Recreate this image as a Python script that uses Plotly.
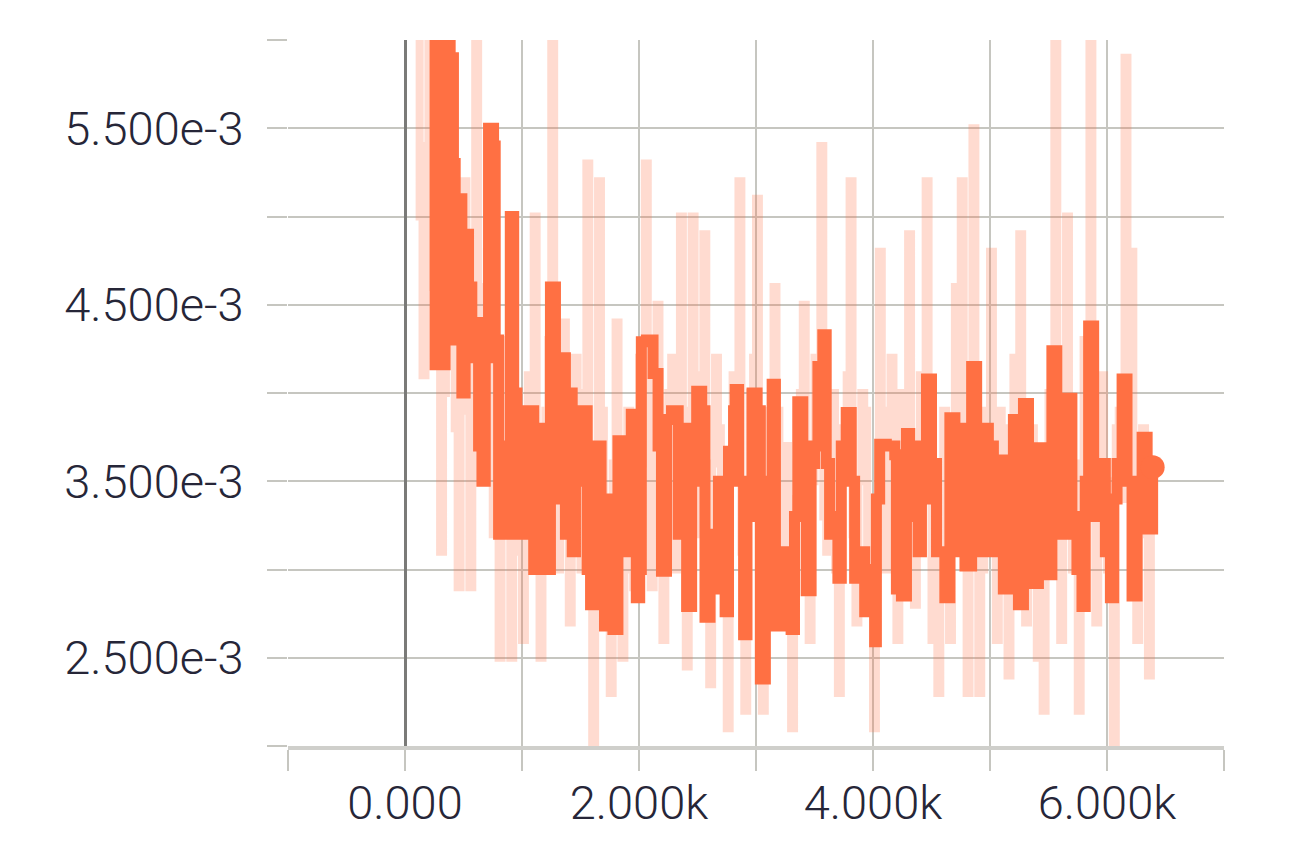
import numpy as np
import plotly.graph_objects as go

# smoothed series (step, value in units of 1e-3)
smooth_step = [200, 229, 257, 314, 343, 386, 414, 429, 457, 486, 514, 543, 571, 600, 629, 657, 686, 714, 757, 771,
               800, 829, 857, 900, 929, 957, 986, 1014, 1043, 1071, 1100, 1129, 1157, 1200, 1243, 1286, 1314, 1343,
               1371, 1400, 1429, 1457, 1500, 1529, 1557, 1586, 1633, 1676, 1705, 1748, 1777, 1820, 1862, 1905, 1934,
               1977, 2006, 2020, 2063, 2120, 2163, 2192, 2235, 2278, 2335, 2378, 2407, 2450, 2493, 2536, 2564, 2607,
               2650, 2679, 2708, 2736, 2765, 2808, 2822, 2851, 2894, 2923, 2966, 3009, 3037, 3080, 3138, 3166, 3209,
               3252, 3300, 3329, 3357, 3400, 3429, 3471, 3500, 3529, 3571, 3600, 3629, 3671, 3700, 3729, 3771, 3814,
               3843, 3886, 3929, 3971, 4014, 4029, 4057, 4114, 4186, 4200, 4243, 4286, 4314, 4343, 4386, 4414, 4457,
               4500, 4543, 4571, 4614, 4657, 4700, 4743, 4786, 4843, 4886, 4914, 4957, 4986, 5029, 5071, 5114, 5157,
               5200, 5243, 5286, 5329, 5371, 5414, 5457, 5486, 5529, 5571, 5614, 5657, 5700, 5743, 5786, 5814, 5843,
               5886, 5929, 5957, 5986, 6029, 6057, 6086, 6129, 6171, 6214, 6257, 6300, 6343, 6390]
smooth_val = [6.3, 6.2, 4.16, 4.16, 6.3, 5.9, 5.3, 4.3, 5.1, 4.0, 4.9, 4.6, 4.2, 4.4, 3.7, 3.5, 4.2, 5.5, 5.4, 4.3,
              3.2, 3.7, 3.2, 5.0, 4.0, 3.2, 3.9, 3.4, 3.2, 3.9, 3.0, 3.8, 3.3, 3.0, 4.6, 4.2, 3.4, 4.2,
              3.2, 4.0, 3.1, 3.9, 3.5, 3.9, 3.0, 2.8, 3.7, 3.3, 2.68, 3.4, 2.66, 3.73, 3.18, 3.1, 3.88,
              2.84, 3.0, 4.29, 4.3, 4.11, 3.7, 2.99, 3.85, 3.9, 3.2, 3.8, 2.79, 3.5, 4.01, 3.9, 2.73, 3.2,
              2.89, 3.5, 3.2, 2.76, 3.67, 3.9, 4.02, 3.5, 2.63, 3.3, 4.0, 3.9, 2.38, 3.5, 4.05, 2.68, 3.1,
              2.8, 2.66, 3.3, 3.95, 3.7, 2.88, 3.6, 3.7, 4.15, 4.33, 3.6, 3.2, 3.3, 2.95, 3.7, 3.89, 3.5,
              2.95, 3.1, 2.76, 3.0, 2.59, 3.4, 3.71, 3.7, 3.65, 2.89, 2.85, 3.77, 3.3, 3.7, 3.1, 3.4, 4.08,
              3.6, 3.1, 3.1, 2.84, 3.86, 3.1, 3.8, 3.02, 4.15, 3.4, 3.1, 3.8, 3.7, 3.1, 3.62, 2.89, 3.5,
              3.85, 2.8, 3.94, 3.2, 2.92, 3.69, 3.4, 2.97, 4.24, 3.3, 3.2, 3.97, 3.3, 3.0, 2.79, 3.5, 4.38,
              3.3, 3.4, 3.6, 3.1, 2.84, 3.4, 3.6, 4.08, 3.5, 2.85, 3.3, 3.75, 3.23, 3.58]

# raw series (step, value in units of 1e-3): extremes at even steps, band values in between
raw_step = [100, 150, 200, 250, 300, 350, 400, 450, 500, 550, 600, 650, 700, 750, 800, 850, 900, 950, 1000, 1050,
            1100, 1150, 1200, 1250, 1300, 1350, 1400, 1450, 1500, 1550, 1600, 1650, 1700, 1750, 1800, 1850, 1900,
            1950, 2000, 2050, 2100, 2150, 2200, 2250, 2300, 2350, 2400, 2450, 2500, 2550, 2600, 2650, 2700, 2750,
            2800, 2850, 2900, 2950, 3000, 3050, 3100, 3150, 3200, 3250, 3300, 3350, 3400, 3450, 3500, 3550, 3600,
            3650, 3700, 3750, 3800, 3850, 3900, 3950, 4000, 4050, 4100, 4150, 4200, 4250, 4300, 4350, 4400, 4450,
            4500, 4550, 4600, 4650, 4700, 4750, 4800, 4850, 4900, 4950, 5000, 5050, 5100, 5150, 5200, 5250, 5300,
            5350, 5400, 5450, 5500, 5550, 5600, 5650, 5700, 5750, 5800, 5850, 5900, 5950, 6000, 6050, 6100, 6150,
            6200, 6250, 6300, 6350]
raw_val = [6.3, 4.1, 6.3, 4.3, 3.1, 5.6, 4.5, 2.9, 5.2, 2.9, 6.3, 3.6, 4.8, 3.2, 2.5, 4.3, 2.5, 3.6, 2.6, 4.1,
           5.0, 2.5, 3.9, 6.2, 3.0, 4.4, 2.7, 4.2, 3.0, 5.3, 2.0, 5.2, 3.0, 2.3, 4.4, 2.5, 3.9,
           2.9, 4.2, 5.3, 2.9, 4.5, 2.6, 4.0, 3.0, 5.0, 2.45, 5.0, 3.2, 4.9, 2.35, 4.2, 3.0, 2.1,
           4.1, 5.2, 2.2, 4.0, 5.1, 2.2, 3.9, 4.6, 2.9, 3.7, 2.1, 3.6, 4.5, 2.6, 4.2, 5.4, 3.1,
           4.0, 2.3, 3.6, 5.2, 2.7, 4.0, 3.1, 2.1, 4.8, 3.0, 4.2, 2.6, 3.6, 4.9, 2.8, 4.1, 5.2,
           2.6, 2.3, 3.9, 2.6, 4.6, 5.2, 2.3, 5.5, 2.3, 3.9, 4.8, 2.6, 3.8, 2.4, 4.2, 4.9, 2.7,
           3.8, 2.5, 2.2, 4.0, 6.3, 2.6, 5.0, 3.0, 2.2, 4.3, 6.3, 2.7, 4.1, 3.0, 1.9, 3.9, 5.9,
           4.8, 2.6, 3.8, 2.4]
raw_mid_step = [125, 175, 225, 275, 325, 375, 425, 475, 525, 575, 625, 675, 725, 775, 825, 875, 925, 975, 1025,
                1075, 1125, 1175, 1225, 1275, 1325, 1375, 1425, 1475, 1525, 1575, 1625, 1675, 1725, 1775, 1825,
                1875, 1925, 1975, 2025, 2075, 2125, 2175, 2225, 2275, 2325, 2375, 2425, 2475, 2525, 2575, 2625,
                2675, 2725, 2775, 2825, 2875, 2925, 2975, 3025, 3075, 3125, 3175, 3225, 3275, 3325, 3375, 3425,
                3475, 3525, 3575, 3625, 3675, 3725, 3775, 3825, 3875, 3925, 3975, 4025, 4075, 4125, 4175, 4225,
                4275, 4325, 4375, 4425, 4475, 4525, 4575, 4625, 4675, 4725, 4775, 4825, 4875, 4925, 4975, 5025,
                5075, 5125, 5175, 5225, 5275, 5325, 5375, 5425, 5475, 5525, 5575, 5625, 5675, 5725, 5775, 5825,
                5875, 5925, 5975, 6025, 6075, 6125, 6175, 6225, 6275, 6325, 6375]
raw_mid_val = [5.0, 5.4, 4.6, 4.7, 4.0, 4.9, 3.8, 4.2, 3.9, 4.4, 4.6, 4.0, 3.5, 3.9, 3.3, 3.8, 3.1, 3.9, 3.3, 3.6,
               3.0, 3.4, 4.3, 3.5, 3.8, 3.2, 3.9, 3.4, 4.0, 3.2, 3.7, 3.9, 2.8, 3.6, 3.2, 3.5, 3.0, 3.7, 3.6, 4.3,
               3.2, 3.8, 3.0, 4.2, 3.4, 3.9, 3.2, 3.7, 4.1, 3.0, 3.6, 3.8, 2.9, 3.5, 3.9, 3.1, 3.4, 4.2, 3.0, 3.6,
               3.2, 3.9, 3.3, 2.8, 3.4, 4.0, 3.1, 3.5, 3.9, 3.3, 3.6, 3.0, 3.8, 4.1, 3.2, 3.5, 3.9, 2.8, 3.3, 3.9,
               3.4, 3.0, 4.0, 3.3, 3.7, 3.2, 3.6, 3.9, 3.3, 3.0, 3.7, 3.2, 3.6, 3.9, 3.2, 3.8, 3.0, 3.5, 3.3, 3.9,
               3.1, 3.6, 3.4, 3.7, 3.1, 3.5, 3.3, 3.6, 3.9, 3.4, 3.8, 3.2, 3.6, 3.0, 3.7, 3.3, 3.6, 3.2, 3.5, 3.8,
               3.4, 3.7, 3.1, 3.5, 3.2, 3.3]

x_tickvals = [-1000, 0, 1000, 2000, 3000, 4000, 5000, 6000, 7000]
x_ticktext = ["", "0.000", "", "2.000k", "", "4.000k", "", "6.000k", ""]
y_tickvals = [2.0, 2.5, 3.0, 3.5, 4.0, 4.5, 5.0, 5.5, 6.0]
y_ticktext = ["", "2.500e-3", "", "3.500e-3", "", "4.500e-3", "", "5.500e-3", ""]

ORANGE = "#ff7043"
GRID = "#c6c6c0"
TXT = "#262638"

# interleave the raw points in step order
raw_x, raw_y = [], []
for s, v, ms, mv in zip(raw_step, raw_val, raw_mid_step, raw_mid_val):
    raw_x += [s, ms]
    raw_y += [v, mv]

fig = go.Figure()
fig.add_trace(go.Scatter(
    x=raw_x, y=np.array(raw_y) * 1e-3, mode="lines", line_shape="hv",
    line=dict(color="rgba(255,112,67,0.25)", width=8), hoverinfo="skip"))
fig.add_trace(go.Scatter(
    x=smooth_step, y=np.array(smooth_val) * 1e-3, mode="lines", line_shape="hv",
    line=dict(color=ORANGE, width=11)))
fig.add_trace(go.Scatter(
    x=smooth_step[-1:], y=np.array(smooth_val[-1:]) * 1e-3, mode="markers",
    marker=dict(color=ORANGE, size=24)))

font = dict(family="Roboto", size=47, color=TXT, weight=300)
fig.update_xaxes(
    range=[-1000, 7000], tickvals=x_tickvals, ticktext=x_ticktext,
    showgrid=True, gridcolor=GRID, gridwidth=2,
    ticks="outside", ticklen=21, tickwidth=2, tickcolor=GRID,
    zeroline=True, zerolinecolor="#7a7a78", zerolinewidth=3,
    showline=True, linecolor="#cfcfcb", linewidth=4,
    tickfont=font, ticklabelstandoff=-8)
fig.update_yaxes(
    range=[2.0e-3, 6.0e-3], tickvals=np.array(y_tickvals) * 1e-3, ticktext=y_ticktext,
    showgrid=True, gridcolor=GRID, gridwidth=2,
    ticks="outside", ticklen=20, tickwidth=2, tickcolor=GRID,
    zeroline=False, showline=False, tickfont=font, ticklabelstandoff=14)
# page body adds an 8px offset, so the figure is 8px smaller on each axis
fig.update_layout(
    width=1284, height=848,
    margin=dict(l=280, r=68, t=32, b=110),
    paper_bgcolor="white", plot_bgcolor="white",
    showlegend=False,
)

fig.write_html("out.html")
